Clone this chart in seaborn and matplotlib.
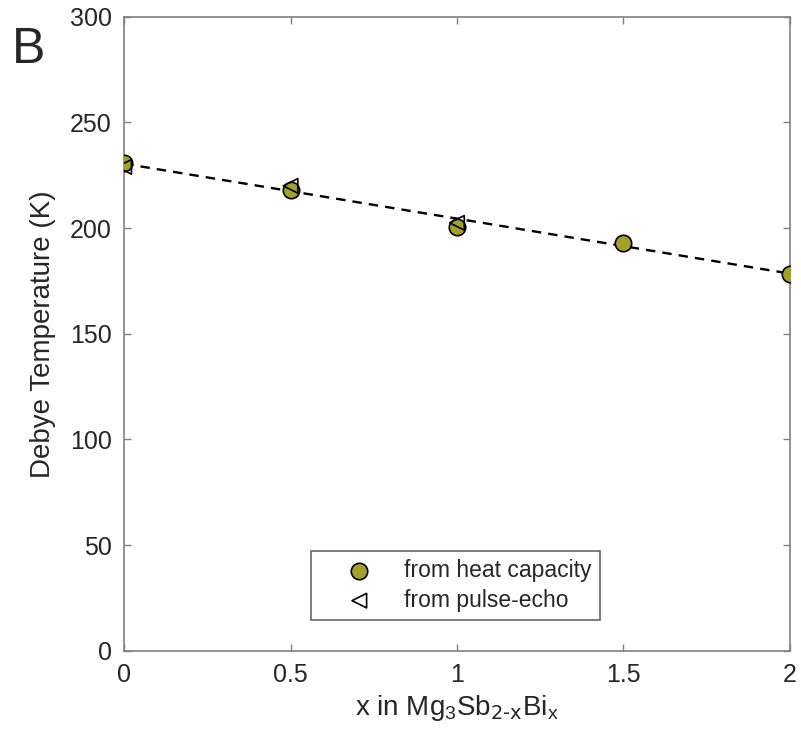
import matplotlib
matplotlib.use('Agg')
import matplotlib.pyplot as plt
import numpy as np
import pandas as pd
import seaborn as sns

# heat capacity data
x_hc = [0, 0.5, 1, 1.5, 2]
theta_hc = [231, 218, 200.5, 193, 178.5]
# pulse-echo data
x_pe = [0, 0.5, 1]
theta_pe = [229, 220, 202.5]
# dashed fit line (read endpoints)
x_fit = [0, 2]
theta_fit = [230.5, 178.5]

sns.set_theme(style='white')
plt.rcParams['font.family'] = ['Liberation Sans', 'DejaVu Sans']
plt.rcParams['mathtext.default'] = 'regular'

fig = plt.figure(figsize=(8.01, 7.32), dpi=100)
ax = fig.add_axes([0.155, 0.111, 0.831, 0.866])

sns.lineplot(x=x_fit, y=theta_fit, ax=ax, color='black', linestyle=(0, (4, 3)),
             linewidth=1.7, legend=False)
sns.scatterplot(x=x_hc, y=theta_hc, ax=ax, marker='o', s=140, color='#a3a12b',
                edgecolor='black', linewidth=1.2, label='from heat capacity', zorder=3)
sns.scatterplot(x=x_pe, y=theta_pe, ax=ax, marker='<', s=110, facecolor='none',
                edgecolor='black', linewidth=1.2, label='from pulse-echo', zorder=4)

ax.set_xlim(0, 2)
ax.set_ylim(0, 300)
ax.set_xticks([0, 0.5, 1, 1.5, 2])
ax.set_xticklabels(['0', '0.5', '1', '1.5', '2'])
ax.set_yticks(range(0, 301, 50))
ax.tick_params(direction='in', length=5, width=1, colors='#808080',
               labelcolor='#262626', labelsize=18, top=True, right=True,
               left=True, bottom=True, pad=9)
for s in ax.spines.values():
    s.set_color('#808080')
    s.set_linewidth(1.2)

ax.set_xlabel(r'x in Mg$_3$Sb$_{\text{2-x}}$Bi$_x$', fontsize=20, color='#262626', labelpad=4)
ax.set_ylabel('Debye Temperature (K)', fontsize=20, color='#262626', labelpad=10)

leg = ax.legend(loc='lower left', bbox_to_anchor=(0.281, 0.049), fontsize=16.5,
                frameon=True, fancybox=False, edgecolor='#404040',
                handlelength=3.5, handletextpad=0.2, borderpad=0.35,
                labelspacing=0.3, borderaxespad=0)
leg.get_frame().set_linewidth(1.2)

fig.text(0.015, 0.963, 'B', fontsize=36, va='top', ha='left')

fig.savefig('out.png', dpi=100)
